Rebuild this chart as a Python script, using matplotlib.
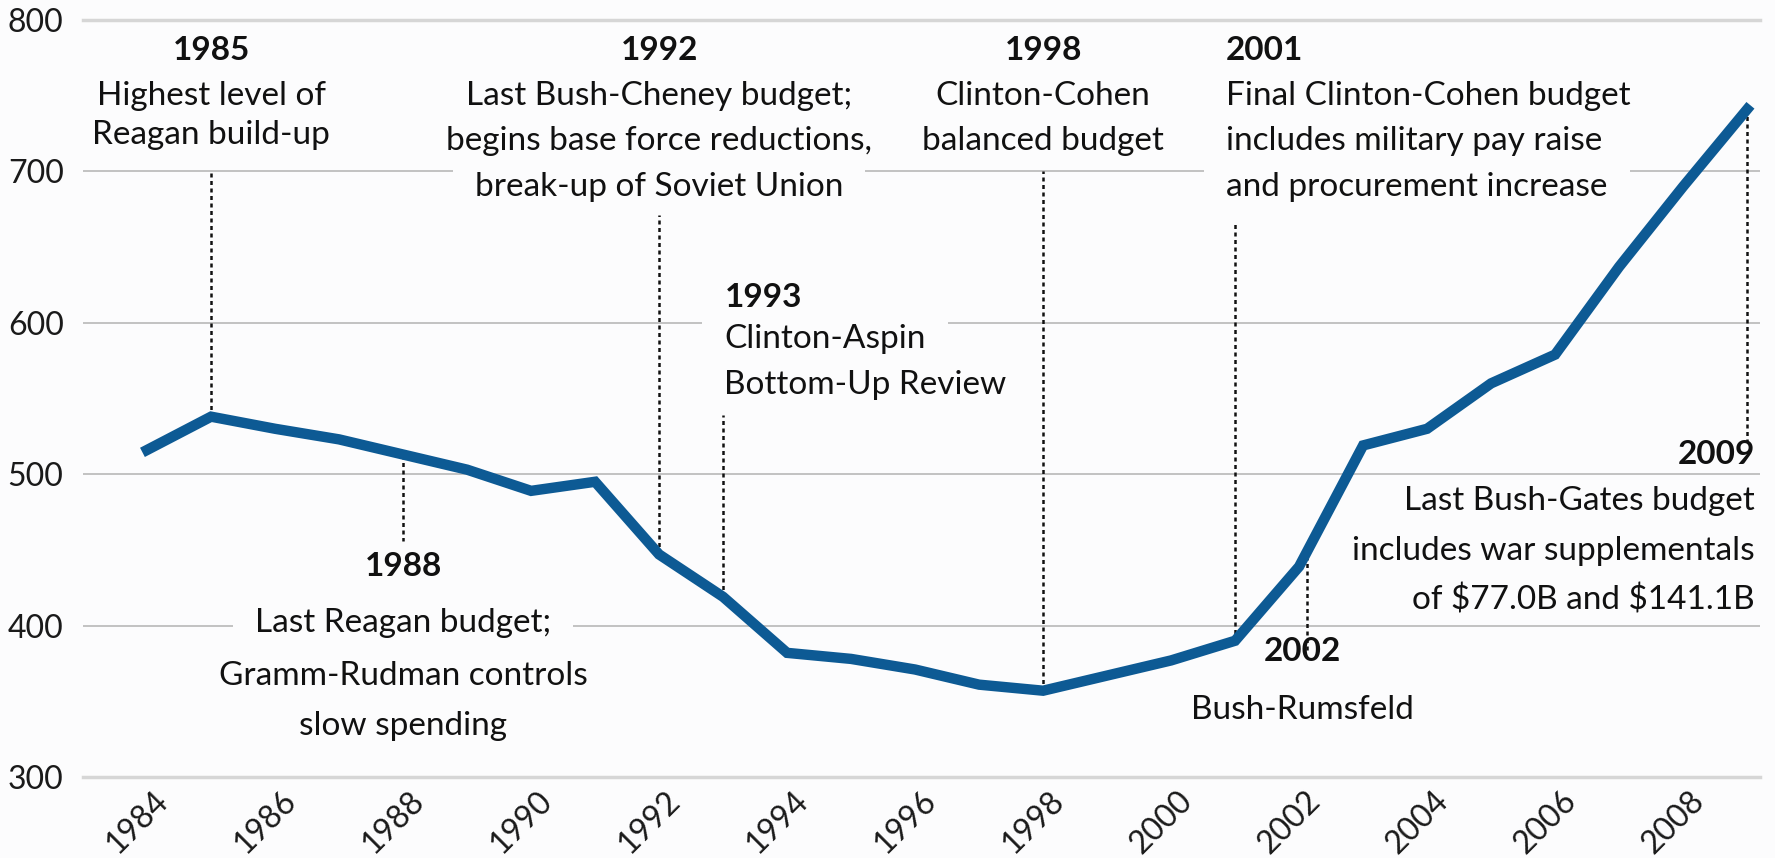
import matplotlib
matplotlib.use("Agg")
import matplotlib.pyplot as plt
from matplotlib.patches import Rectangle
from matplotlib.transforms import IdentityTransform, ScaledTranslation

plt.rcParams['font.family'] = ['Lato', 'DejaVu Sans']

# budget authority, billions
years = list(range(1984, 2010))
budget = [516, 538, 530, 523, 513, 503, 489, 495, 447, 419, 382, 378, 371,
          361, 357, 367, 377, 390, 439, 519, 530, 560, 579, 637, 690, 741]

y_ticks = [300, 400, 500, 600, 700, 800]
x_ticks = list(range(1984, 2009, 2))

# annotations: year of event, bold label, body lines, text anchor x, y of each row, alignment
notes = [
    (1985, "1985", ["Highest level of", "Reagan build-up"], 1985.0, [780, 750, 724], "center"),
    (1988, "1988", ["Last Reagan budget;", "Gramm-Rudman controls", "slow spending"], 1988.0, [439, 402, 367, 334], "center"),
    (1992, "1992", ["Last Bush-Cheney budget;", "begins base force reductions,", "break-up of Soviet Union"], 1992.0, [780, 750, 720, 690], "center"),
    (1993, "1993", ["Clinton-Aspin", "Bottom-Up Review"], 1993.02, [617, 589, 559], "left"),
    (1998, "1998", ["Clinton-Cohen", "balanced budget"], 1998.0, [780, 750, 720], "center"),
    (2001, "2001", ["Final Clinton-Cohen budget", "includes military pay raise", "and procurement increase"], 2000.86, [780, 750, 720, 690], "left"),
    (2002, "2002", ["Bush-Rumsfeld"], 2002.05, [383, 344], "center"),
    (2009, "2009", ["Last Bush-Gates budget", "includes war supplementals", r"of \$77.0B and \$141.1B"], 2009.12, [513, 482, 449, 417], "right"),
]
# far end of each dotted leader (the other end sits on the line)
leader_end = {1985: 700, 1988: 456, 1992: 671, 1993: 539, 1998: 700, 2001: 665, 2002: 454, 2009: 521}

bg = '#fcfcfd'
fig = plt.figure(figsize=(17.75, 8.58), dpi=100, facecolor=bg)
ax = fig.add_axes([0.0468, 0.0944, 0.9447, 0.8823])
ax.set_facecolor(bg)

ax.plot(years, budget, color='#0d5a94', lw=7.5, solid_joinstyle='miter', zorder=4)

for yr, y1 in leader_end.items():
    yv = budget[years.index(yr)]
    x = yr
    if yr == 2002:
        yv, x = 384, 2002.12
    ax.plot([x, x], [yv, y1], color='#111111', lw=1.8, ls=(0, (1.6, 1.4)), zorder=2)

body_texts = []
for yr, head, lines, tx, ys, ha in notes:
    ax.text(tx, ys[0], head, ha=ha, va='center', fontsize=24, fontweight='bold',
            color='#111111', zorder=3)
    for line, yy in zip(lines, ys[1:]):
        t = ax.text(tx, yy, line, ha=ha, va='center', fontsize=24, color='#111111', zorder=3)
        body_texts.append(t)

ax.set_xlim(1983.0, 2009.2)
ax.set_ylim(300, 800)
ax.set_yticks(y_ticks)
ax.set_xticks(x_ticks)
ax.set_xticklabels([str(x) for x in x_ticks], rotation=45, ha='center')
ax.tick_params(axis='both', length=0, labelsize=23, colors='#1a1a1a')
ax.tick_params(axis='x', pad=6)
ax.tick_params(axis='y', pad=14)
for lab in ax.get_xticklabels():
    lab.set_transform(lab.get_transform() + ScaledTranslation(-0.10, 0, fig.dpi_scale_trans))

ax.set_axisbelow(True)
ax.grid(axis='y', color='#bdbdbd', lw=1.3)
ax.grid(axis='x', visible=False)
for s in ['left', 'right']:
    ax.spines[s].set_visible(False)
for s in ['top', 'bottom']:
    ax.spines[s].set_color('#d6d6d6')
    ax.spines[s].set_linewidth(2.5)

# boxes behind body lines (background colour), wider than tall
fig.canvas.draw()
r = fig.canvas.get_renderer()
for t in body_texts:
    bb = t.get_window_extent(r)
    ax.add_patch(Rectangle((bb.x0 - 22, bb.y0 - 3), bb.width + 44, bb.height + 6,
                           transform=IdentityTransform(), facecolor=bg,
                           edgecolor='none', zorder=1.5))

fig.savefig("out.png", dpi=100, facecolor=bg)
